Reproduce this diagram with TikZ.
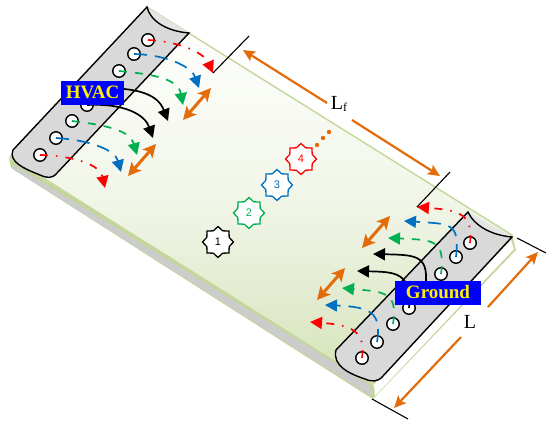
\documentclass[tikz,border=0pt]{standalone}
\usepackage{fontspec}
\setmainfont{Liberation Serif}
\setsansfont{Liberation Sans}
\usepackage{xcolor}
\usetikzlibrary{arrows.meta,shapes.geometric}
\definecolor{flowR}{HTML}{FF0000}
\definecolor{flowB}{HTML}{0070C0}
\definecolor{flowG}{HTML}{00B050}
\definecolor{dimO}{HTML}{E36C0A}
\definecolor{lipG}{HTML}{C3D69B}
\tikzset{
  hole/.style={circle,draw,line width=1.4pt,fill=white,minimum size=12.5pt,inner sep=0pt},
  flowbase/.style={line width=1.7pt,-{Triangle[length=12pt,width=12pt]}},
  flowred/.style={flowbase,flowR,dash pattern=on 8pt off 8pt on 1.5pt off 8pt},
  flowblue/.style={flowbase,flowB,dash pattern=on 13pt off 8pt},
  flowgreen/.style={flowbase,flowG,dash pattern=on 8pt off 8pt},
  flowblack/.style={flowbase,black},
  swing/.style={dimO,line width=3pt,{Stealth[length=13pt,width=13pt,inset=3pt]}-{Stealth[length=13pt,width=13pt,inset=3pt]}},
  dimline/.style={dimO,line width=2.2pt,-{Stealth[length=12pt,width=11pt,inset=2.5pt]}},
  tick/.style={black,line width=1.1pt},
  sourcetag/.style={fill=blue,text=yellow,font=\fontsize{19}{19}\selectfont\bfseries,inner sep=0pt,minimum height=24pt},
  dimtag/.style={font=\fontsize{20}{20}\selectfont,inner sep=1pt},
  burner/.style={star,star points=8,star point ratio=1.28,draw=#1,text=#1,fill=white,line width=1.3pt,inner sep=0pt,minimum size=31pt,font=\sffamily\fontsize{11}{11}\selectfont},
  stripbox/.style={draw=black,line width=1.4pt,fill=black!15}
}
\begin{document}
\begin{tikzpicture}[x=1pt,y=-1pt]
    \useasboundingbox (0,0) rectangle (546,421);

    % Slab side faces
    \fill[lipG] (9,158) -- (372,380) -- (373,399) -- (368,396) -- (11,168) -- cycle;
    \fill[black!20] (13,164) -- (370,385) -- (371,396) -- (13,169) -- cycle;
    \fill[lipG] (372,387) -- (512,235) -- (516,250) -- (373,399) -- cycle;
    \fill[white] (374,385) -- (511,240) -- (514,249) -- (375,396) -- cycle;

    % Slab top
    \shade[top color=white,bottom color=lipG!70,middle color=lipG!22,draw=lipG,line width=1.4pt]
        (10,157) -- (147,7) -- (512,235) -- (372,385) -- cycle;

    % HVAC strip
    \fill[black!10] (147,7) -- (189,33) .. controls (165,31) and (150,20) .. (147,7);
    \draw[stripbox] (147,7) .. controls (150,20) and (165,31) .. (189,33)
        -- (57,173) .. controls (52,179) and (47,178) .. (40,175)
        .. controls (25,169) and (8,162) .. (13,150) -- cycle;

    % Ground strip
    \fill[black!10] (468,212) -- (512,237) .. controls (490,235) and (474,225) .. (468,212);
    \draw[stripbox] (468,212) .. controls (474,225) and (490,235) .. (512,237)
        -- (383,376) .. controls (378,382) and (372,382) .. (365,379)
        .. controls (350,374) and (332,366) .. (336,350) -- cycle;

    % Holes
    \foreach \n/\p in {a1/{148,40},a2/{134,54},a3/{119,71},a4/{103,88},a5/{87,105},a6/{72,121},a7/{56,138},a8/{40,155},
                       b1/{470,243},b2/{456,257},b3/{441,274},b4/{425,291},b5/{409,308},b6/{393,324},b7/{377,342},b8/{362,358}}
        \node[hole] (\n) at (\p) {};

    % Flow ends
    \foreach \n/\p in {ta1/{213,73},ta2/{199,88},ta3/{183,105},ta4/{168,121},ta5/{153,138},ta6/{137,155},ta7/{121,172},ta8/{105,188},
                       tb1/{417,207},tb2/{404,221},tb3/{388,238},tb4/{373,254},tb5/{357,271},tb6/{342,288},tb7/{325,305},tb8/{310,322}}
        \coordinate (\n) at (\p);

    % HVAC flows
    \draw[flowred] (a1.center) .. controls (185,42) and (205,55) .. (ta1);
    \draw[flowblue] (a2.center) .. controls (170,55) and (192,68) .. (ta2);
    \draw[flowgreen] (a3.center) .. controls (150,74) and (178,78) .. (ta3);
    \draw[flowblack] (a4.center) .. controls (140,88) and (158,95) .. (ta4);
    \draw[flowblack] (a5.center) .. controls (125,103) and (145,115) .. (ta5);
    \draw[flowgreen] (a6.center) .. controls (105,125) and (130,130) .. (ta6);
    \draw[flowblue] (a7.center) .. controls (90,140) and (115,150) .. (ta7);
    \draw[flowred] (a8.center) .. controls (75,156) and (100,165) .. (ta8);

    % Ground flows
    \draw[flowred] (b1.center) .. controls (474,212) and (455,210) .. (tb1);
    \draw[flowblue] (b2.center) .. controls (460,222) and (450,224) .. (tb2);
    \draw[flowgreen] (b3.center) .. controls (445,240) and (435,240) .. (tb3);
    \draw[flowblack] (b4.center) .. controls (430,255) and (418,255) .. (tb4);
    \draw[flowblack] (b5.center) .. controls (412,272) and (395,272) .. (tb5);
    \draw[flowgreen] (b6.center) .. controls (398,292) and (385,292) .. (tb6);
    \draw[flowblue] (b7.center) .. controls (382,312) and (370,307) .. (tb7);
    \draw[flowred] (b8.center) .. controls (366,330) and (350,325) .. (tb8);

    % Swing arrows
    \foreach \n/\p/\q in {s1/{183,120}/{211,88},s2/{128,176}/{156,144},s3/{362,248}/{390,216},s4/{317,300}/{345,268}} {
        \coordinate (\n a) at (\p);
        \coordinate (\n b) at (\q);
        \draw[swing] (\n a) -- (\n b);
    }

    % Tags
    \node[sourcetag,minimum width=63pt] (hvac) at (92.5,92.5) {HVAC};
    \node[sourcetag,minimum width=86pt] (ground) at (438,292.5) {Ground};

    % Burners
    \node[burner=black] (f1) at (218,242) {1};
    \node[burner=flowG] (f2) at (249,213) {2};
    \node[burner=flowB] (f3) at (277,185) {3};
    \node[burner=flowR] (f4) at (301,159) {4};
    \foreach \n/\p in {d1/{317,145},d2/{323,138},d3/{329,132}}
        \fill[dimO] (\p) circle (2.2pt) coordinate (\n);

    % Dimension Lf
    \coordinate (lf1a) at (213,73);
    \coordinate (lf1b) at (249,36);
    \coordinate (lf2a) at (417,207);
    \coordinate (lf2b) at (450,172);
    \draw[tick] (lf1a) -- (lf1b);
    \draw[tick] (lf2a) -- (lf2b);
    \node[dimtag] (lf) at (339,104) {L\raisebox{-1.5pt}{\fontsize{12}{12}\selectfont f}};
    \coordinate (lfl) at (243,50);
    \coordinate (lfr) at (440,176);
    \draw[dimline] (lf) ++(-12,-1) -- (lfl);
    \draw[dimline] (lf) ++(13,16) -- (lfr);

    % Dimension L
    \coordinate (l1a) at (517,238);
    \coordinate (l1b) at (546,253);
    \coordinate (l2a) at (372,399);
    \coordinate (l2b) at (408,419);
    \draw[tick] (l1a) -- (l1b);
    \draw[tick] (l2a) -- (l2b);
    \node[dimtag] (len) at (470,322) {L};
    \coordinate (lt) at (538,252);
    \coordinate (lb) at (394,408);
    \draw[dimline] (len) ++(18,-15) -- (lt);
    \draw[dimline] (len) ++(-9,15) -- (lb);
\end{tikzpicture}
\end{document}
